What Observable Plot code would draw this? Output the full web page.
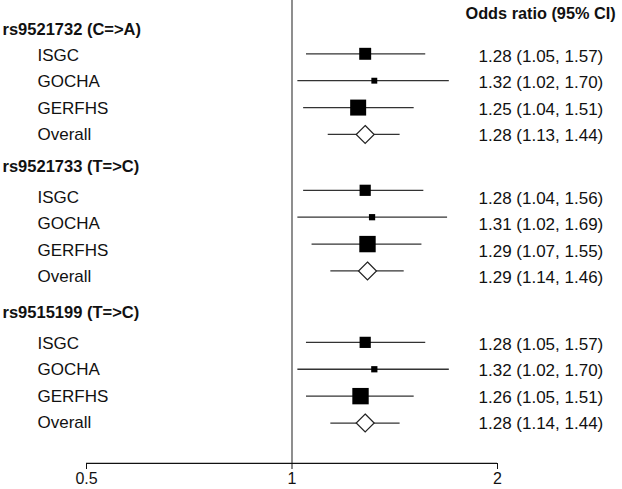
<!DOCTYPE html>
<html>
<head>
<meta charset="utf-8">
<script src="https://cdn.jsdelivr.net/npm/d3@7"></script>
<script src="https://cdn.jsdelivr.net/npm/@observablehq/plot@0.6"></script>
<style>
  html, body { margin: 0; padding: 0; background: #fff; }
</style>
</head>
<body>
<div id="chart"></div>
<script>
// ---- data ----
const snps = ["rs9521732 (C=>A)", "rs9521733 (T=>C)", "rs9515199 (T=>C)"];
const studies = ["ISGC", "GOCHA", "GERFHS", "Overall"];
const or1 = [1.28, 1.32, 1.25, 1.28];
const lo1 = [1.05, 1.02, 1.04, 1.13];
const hi1 = [1.57, 1.70, 1.51, 1.44];
const or2 = [1.28, 1.31, 1.29, 1.29];
const lo2 = [1.04, 1.02, 1.07, 1.14];
const hi2 = [1.56, 1.69, 1.55, 1.46];
const or3 = [1.28, 1.32, 1.26, 1.28];
const lo3 = [1.05, 1.02, 1.05, 1.14];
const hi3 = [1.57, 1.70, 1.51, 1.44];
// study weights (%), drawn as box area
const w1 = [33, 8, 59];
const w2 = [29, 9, 62];
const w3 = [29, 9, 62];
const xTicks = [0.5, 1, 2];
const header = "Odds ratio (95% CI)";

// ---- layout (row units) ----
const titleRow = [0.1, 5.15, 10.5];
const markStart = [1, 6, 11.57];
const textStart = [1.05, 6.25, 11.6];

const ors = [or1, or2, or3], los = [lo1, lo2, lo3], his = [hi1, hi2, hi3], ws = [w1, w2, w3];
const fmt = v => v.toFixed(2);
const rows = [];
snps.forEach((snp, b) => {
  studies.forEach((st, j) => {
    const o = ors[b][j], l = los[b][j], h = his[b][j];
    rows.push({
      snp, study: st, or: o, lo: l, hi: h,
      weight: j < 3 ? ws[b][j] : null,
      overall: st === "Overall",
      yMark: markStart[b] + j * 0.985,
      yText: textStart[b] + j * 0.97,
      label: `${fmt(o)} (${fmt(l)}, ${fmt(h)})`
    });
  });
});
const titles = snps.map((s, b) => ({ s, y: titleRow[b] }));

const chart = Plot.plot({
  width: 622,
  height: 489,
  marginTop: 0,
  marginBottom: 26,
  marginLeft: 86,
  marginRight: 125,
  style: { fontFamily: "Liberation Sans, Arial, sans-serif", background: "#fff", color: "#111" },
  x: { type: "log", domain: [0.5, 2] },
  y: { domain: [0, 16], range: [26, 462.8], axis: null },
  r: { type: "sqrt", domain: [0, 60], range: [0, 9.1] },
  marks: [
    Plot.ruleX([1], { stroke: "#444", strokeWidth: 1.2 }),
    Plot.ruleY([16], { x1: () => 0.5, x2: () => 2, stroke: "#111", strokeWidth: 1.2 }),
    Plot.axisX({ ticks: xTicks, tickFormat: d => String(d), tickSize: 6, tickPadding: 3, fontSize: 16, stroke: "#111", fill: "#111", label: null }),
    Plot.ruleY(rows, { y: "yMark", x1: "lo", x2: "hi", stroke: "#333", strokeWidth: 1.3 }),
    Plot.dot(rows.filter(d => !d.overall), { x: "or", y: "yMark", r: "weight", symbol: "square", fill: "#000", stroke: "none" }),
    Plot.dot(rows.filter(d => d.overall), { x: "or", y: "yMark", r: 8.1, symbol: d3.symbolDiamond2, fill: "#fff", stroke: "#222", strokeWidth: 1.2 }),
    Plot.text(titles, { y: "y", text: "s", frameAnchor: "left", dx: -84, textAnchor: "start", fontWeight: "bold", fontSize: 16.5, fill: "#111" }),
    Plot.text(rows, { y: "yText", text: "study", frameAnchor: "left", dx: -49, textAnchor: "start", fontSize: 17, fill: "#111" }),
    Plot.text(rows, { y: d => d.yText + 0.05, text: "label", frameAnchor: "right", dx: -19, textAnchor: "start", fontSize: 17, fill: "#111" }),
    Plot.text([header], { y: () => -0.47, text: d => d, frameAnchor: "right", dx: -32, textAnchor: "start", fontWeight: "bold", fontSize: 16.3, fill: "#111" })
  ]
});
document.getElementById("chart").appendChild(chart);
</script>
</body>
</html>
